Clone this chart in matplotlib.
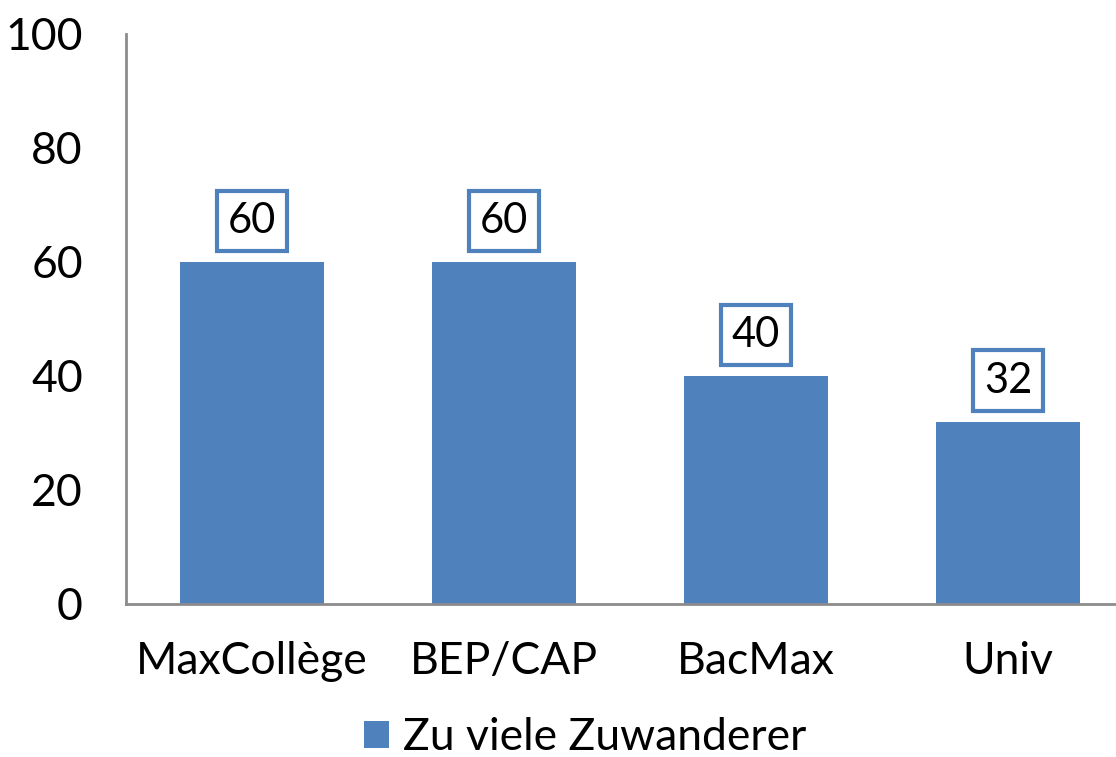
import matplotlib
matplotlib.use("Agg")
import matplotlib.pyplot as plt
from matplotlib.patches import Patch

categories = ["MaxCollège", "BEP/CAP", "BacMax", "Univ"]
values = [60, 60, 40, 32]
series_name = "Zu viele Zuwanderer"
yticks = [0, 20, 40, 60, 80, 100]

bar_color = "#4F81BD"
spine_color = "#8C8C8C"

plt.rcParams['font.family'] = ['Lato', 'DejaVu Sans']

fig = plt.figure(figsize=(11.16, 7.57), dpi=100)
ax = fig.add_axes([126/1116, 153/757, 1008/1116, 570/757])

x = list(range(len(categories)))
ax.bar(x, values, width=144/252, color=bar_color, zorder=2)
ax.set_xlim(-0.5, len(categories) - 0.5)
ax.set_ylim(0, 100)
ax.set_yticks(yticks)
ax.set_xticks(x)
ax.set_xticklabels(categories)
ax.tick_params(axis='both', length=0, labelsize=32, colors='black')
ax.tick_params(axis='y', pad=31)
ax.tick_params(axis='x', pad=27)

for s in ['top', 'right']:
    ax.spines[s].set_visible(False)
for s in ['left', 'bottom']:
    ax.spines[s].set_color(spine_color)
    ax.spines[s].set_linewidth(2)

for xi, v in zip(x, values):
    ax.annotate(str(v), xy=(xi, v), xytext=(0, 29.5), textcoords='offset points',
                ha='center', va='center', fontsize=30,
                bbox=dict(boxstyle='square,pad=0.27', fc='white', ec=bar_color, lw=3))

handle = Patch(facecolor=bar_color, edgecolor='none')
fig.legend([handle], [series_name], loc='center', bbox_to_anchor=(585/1116, 1 - 738/757),
           frameon=False, fontsize=32, handlelength=0.56, handleheight=0.56,
           handletextpad=0.32, borderpad=0)

fig.savefig("out.png", dpi=100)
